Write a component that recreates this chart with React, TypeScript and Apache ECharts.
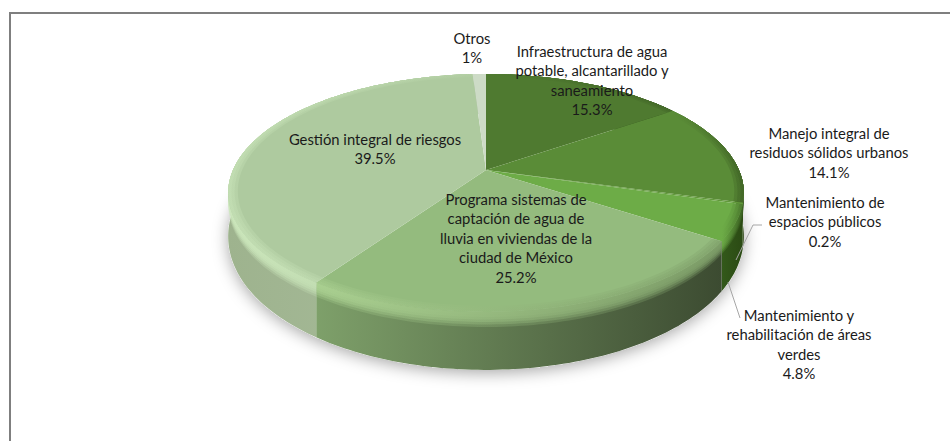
import React, { useEffect, useRef } from "react";
import * as echarts from "echarts";

const categories = [
  ["Infraestructura de agua", "potable, alcantarillado y", "saneamiento"],
  ["Manejo integral de", "residuos sólidos urbanos"],
  ["Mantenimiento de", "espacios públicos"],
  ["Mantenimiento y", "rehabilitación de áreas", "verdes"],
  ["Programa sistemas de", "captación de agua de", "lluvia en viviendas de la", "ciudad de México"],
  ["Gestión integral de riesgos"],
  ["Otros"],
];
const values = [15.3, 14.1, 0.2, 4.8, 25.2, 39.5, 1];
const valueLabels = ["15.3%", "14.1%", "0.2%", "4.8%", "25.2%", "39.5%", "1%"];
const faceColors = ["#4f7a30", "#5a8c37", "#62993c", "#6dac47", "#94bb7e", "#aeca9f", "#cddbc6"];

const wallStops: [string, string][] = [
  ["#3b5c24", "#2b4418"],
  ["#3d6325", "#27400f"],
  ["#3d6325", "#2b4a14"],
  ["#33591a", "#2b4a14"],
  ["#7ea06a", "#3c4b31"],
  ["#9eb38e", "#a9bd9d"],
  ["#9eb38e", "#a9bd9d"],
];
const rimStops: [string, string][] = [
  ["#4f7a30", "#3f6226"],
  ["#5a8c37", "#37561f"],
  ["#62993c", "#37561f"],
  ["#6dac47", "#3c6322"],
  ["#a9cf90", "#7c9c67"],
  ["#cbe6bb", "#b4d0a5"],
  ["#cddbc6", "#cddbc6"],
];

const labelAnchors = [
  [592, 51],
  [829, 133],
  [825, 202],
  [799, 315],
  [516, 199],
  [375, 139],
  [472, 38],
];
const leaderLines = [
  [[736, 260], [753, 225], [762, 225]],
  [[728, 282], [740, 318]],
];

const CX = 486, CY = 170, B = 253, A = -81.7, K = 0.193;
function project(theta: number, s = 1): [number, number] {
  const u = s * Math.sin(theta), v = s * Math.cos(theta);
  const d = 1 + K * v;
  return [CX + (B * u) / d, (CY + A * v) / d];
}
function depthAt(theta: number, f: number) {
  return f * (40 + 18 * Math.max(0, -Math.cos(theta)));
}
function arcPts(a0: number, a1: number, fn: (t: number) => [number, number]) {
  const n = Math.max(2, Math.ceil(Math.abs(a1 - a0) / 0.02));
  const out: [number, number][] = [];
  for (let i = 0; i <= n; i++) out.push(fn(a0 + ((a1 - a0) * i) / n));
  return out;
}
function sliceGrad(x0: number, x1: number, c0: string, c1: string) {
  return new echarts.graphic.LinearGradient(x0, 0, x1, 0, [
    { offset: 0, color: c0 },
    { offset: 1, color: c1 },
  ], true);
}

const total = values.reduce((a, b) => a + b, 0);

export default function App() {
  const ref = useRef<HTMLDivElement>(null);
  useEffect(() => {
    const chart = echarts.init(ref.current!, undefined, { renderer: "svg" });
    const starts: number[] = [];
    let acc = 0;
    values.forEach((v) => { starts.push((acc / total) * Math.PI * 2); acc += v; });
    const font = "Lato, Carlito, sans-serif";

    const range = (i: number, val: number) => {
      const a0 = starts[i];
      const a1 = a0 + (val / total) * Math.PI * 2;
      const xs = arcPts(a0, a1, (t) => project(t)).map((p) => p[0]);
      return { a0, a1, xMin: Math.min(...xs), xMax: Math.max(...xs) + 0.01 };
    };

    const wallItem = (params: any, api: any) => {
      const i = params.dataIndex;
      const { a0, a1, xMin, xMax } = range(i, api.value(0));
      const top = (t: number) => project(t);
      const bottom = (t: number): [number, number] => {
        const p = project(t);
        return [p[0], p[1] + depthAt(t, 1)];
      };
      const children: any[] = [{
        type: "polygon",
        silent: true,
        shape: { points: [...arcPts(a0, a1, top), ...arcPts(a1, a0, bottom)] },
        style: { fill: sliceGrad(xMin, xMax, wallStops[i][0], wallStops[i][1]) },
      }];
      const bands = 6;
      for (let b = bands; b >= 1; b--) {
        const f = (b / bands) * 0.26;
        children.push({
          type: "polygon",
          silent: true,
          shape: {
            points: [
              ...arcPts(a0, a1, top),
              ...arcPts(a1, a0, (t) => {
                const p = project(t);
                return [p[0], p[1] + depthAt(t, f)];
              }),
            ],
          },
          style: {
            fill: sliceGrad(xMin, xMax, rimStops[i][0], rimStops[i][1]),
            opacity: 0.3 + 0.7 * (1 - b / bands),
          },
        });
      }
      return { type: "group", children };
    };

    const faceItem = (params: any, api: any) => {
      const i = params.dataIndex;
      const { a0, a1, xMin, xMax } = range(i, api.value(0));
      const children: any[] = [{
        type: "polygon",
        silent: true,
        shape: { points: [[CX, CY], ...arcPts(a0, a1, (t) => project(t))] },
        style: { fill: faceColors[i] },
      }];
      // soft rim creeping into the face
      for (let b = 1; b <= 3; b++) {
        const s = 1 - 0.012 * (4 - b);
        children.push({
          type: "polygon",
          silent: true,
          shape: {
            points: [
              ...arcPts(a0, a1, (t) => project(t, s)),
              ...arcPts(a1, a0, (t) => project(t, 1)),
            ],
          },
          style: { fill: sliceGrad(xMin, xMax, rimStops[i][0], rimStops[i][1]), opacity: 0.3 },
        });
      }
      return { type: "group", children };
    };

    const shadowItem = () => ({
      type: "polygon",
      silent: true,
      shape: {
        points: arcPts(0, Math.PI * 2, (t) => {
          const p = project(t);
          return [p[0], p[1] + depthAt(t, 1)];
        }),
      },
      style: { fill: "#ffffff", shadowBlur: 16, shadowColor: "rgba(0,0,0,0.35)", shadowOffsetY: 3 },
    });

    const labelGraphics: any[] = [];
    categories.forEach((lines, i) => {
      [...lines, valueLabels[i]].forEach((t, j) => {
        labelGraphics.push({
          type: "text",
          silent: true,
          z: 100,
          style: {
            x: labelAnchors[i][0],
            y: labelAnchors[i][1] + j * 19.4,
            text: t,
            font: `14.8px ${font}`,
            fill: "#1a1a1a",
            align: "center",
            verticalAlign: "middle",
          },
        });
      });
    });
    leaderLines.forEach((pts) => {
      labelGraphics.push({
        type: "polyline",
        silent: true,
        z: 90,
        shape: { points: pts },
        style: { stroke: "#a6a6a6", lineWidth: 1, fill: "none" },
      });
    });

    chart.setOption({
      animation: false,
      backgroundColor: "#ffffff",
      graphic: [
        {
          type: "rect",
          silent: true,
          z: -1,
          shape: { x: 10, y: 13, width: 960, height: 450 },
          style: { fill: "#ffffff", stroke: "#7f7f7f", lineWidth: 2 },
        },
        ...labelGraphics,
      ],
      series: [
        { type: "custom", coordinateSystem: "none", renderItem: shadowItem, data: [[1]], z: 1, silent: true },
        { type: "custom", coordinateSystem: "none", renderItem: wallItem, data: values.map((v) => [v]), z: 2, silent: true },
        { type: "custom", coordinateSystem: "none", renderItem: faceItem, data: values.map((v) => [v]), z: 3, silent: true },
      ],
    });
    return () => chart.dispose();
  }, []);
  return <div ref={ref} style={{ position: "fixed", left: 0, top: 0, width: 950, height: 441 }} />;
}
